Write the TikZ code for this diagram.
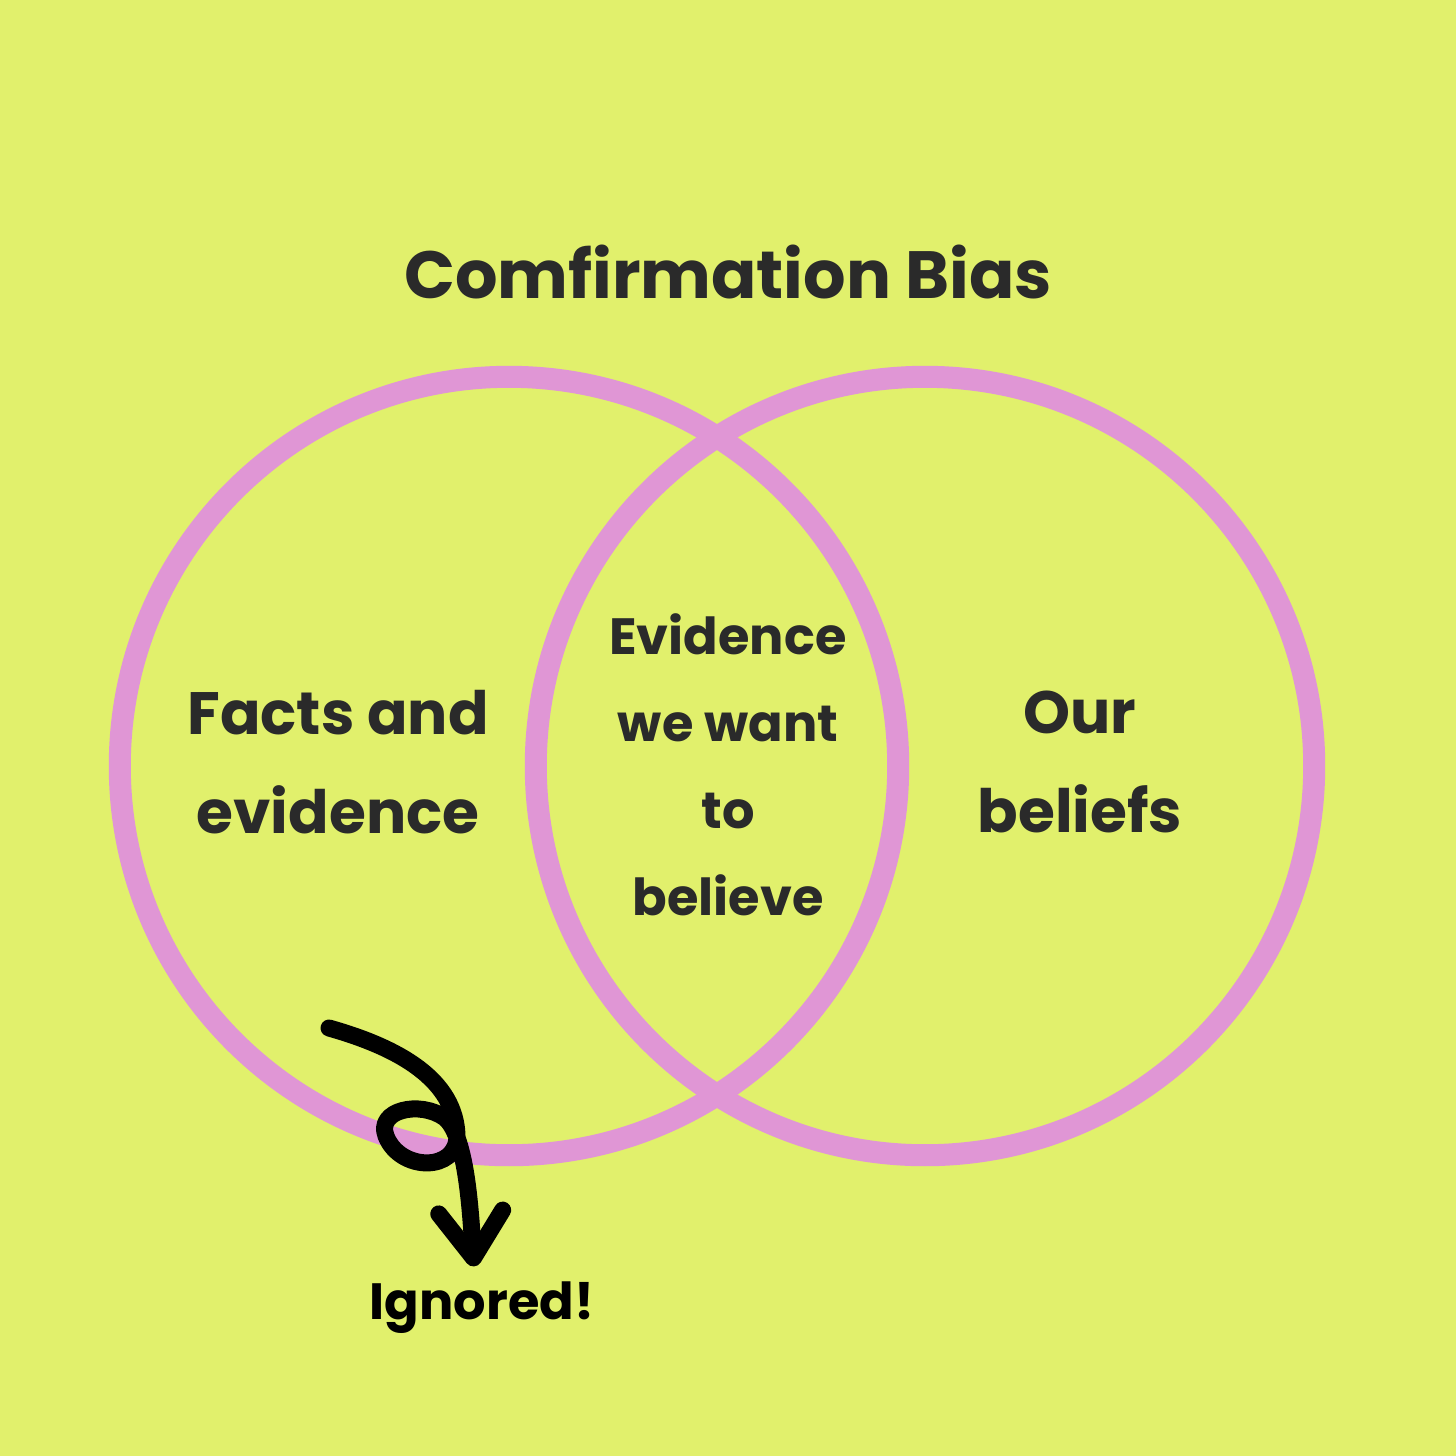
\documentclass[tikz,border=0pt]{standalone}
\usepackage{fontspec}
\setmainfont{Poppins}
\usetikzlibrary{arrows.meta}
\definecolor{bglime}{RGB}{225,240,108}
\definecolor{vennpink}{RGB}{224,150,213}
\definecolor{inkgray}{RGB}{42,42,42}
\tikzset{
  ring/.style={circle, draw=vennpink, line width=2.2mm, minimum size=7.78cm, inner sep=0pt},
  titletxt/.style={text=inkgray, font=\bfseries\fontsize{19}{23}\selectfont},
  bigtxt/.style={text=inkgray, font=\bfseries\fontsize{17}{28}\selectfont, align=center},
  midtxt/.style={text=inkgray, font=\bfseries\fontsize{14.5}{24.7}\selectfont, align=center},
  notetxt/.style={text=black, font=\bfseries\fontsize{14.5}{17}\selectfont, inner sep=1.5mm},
  squiggle/.style={draw=black, line width=1.7mm, line cap=round, line join=round,
    -{Straight Barb[length=4.6mm, width=6.4mm, round]}},
}
\begin{document}
\begin{tikzpicture}[x=0.01cm,y=-0.01cm]
  \fill[bglime] (0,0) rectangle (1456,1456);
  \useasboundingbox (0,0) rectangle (1456,1456);
  \node[titletxt] (title) at (728,272) {Comfirmation Bias};
  \node[ring] (facts) at (509,766) {};
  \node[ring] (beliefs) at (925,766) {};
  \node[bigtxt] (factstxt) at (338,762) {Facts and\\evidence};
  \node[midtxt] (overlap) at (728,765) {Evidence\\we want\\to\\believe};
  \node[bigtxt] (ourtxt) at (1080,762) {Our\\beliefs};
  \node[notetxt] (ignored) at (482,1308) {Ignored!};
  \coordinate (tail) at (329,1028);
  \draw[squiggle] (tail) .. controls (400,1048) and (455,1080) .. (457,1135)
    .. controls (458,1172) and (400,1172) .. (386,1136)
    .. controls (376,1110) and (420,1100) .. (445,1118)
    .. controls (465,1135) and (470,1200) .. ([xshift=-0.08cm]ignored.north);
\end{tikzpicture}
\end{document}
